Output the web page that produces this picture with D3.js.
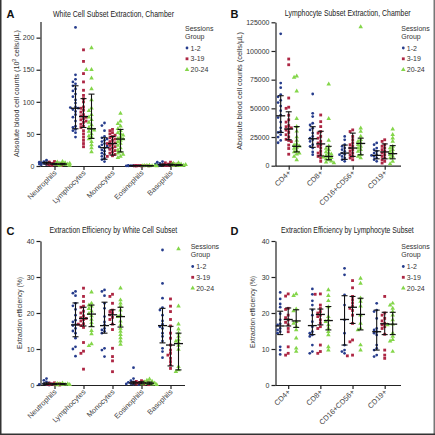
<!DOCTYPE html>
<html><head><meta charset="utf-8">
<script src="https://cdn.jsdelivr.net/npm/d3@7"></script>
<style>body{margin:0;background:#fff}svg{display:block}</style>
</head><body>
<svg id="c" width="435" height="435"></svg>
<script>
// ---------- DATA ----------
const groups = ["1-2", "3-19", "20-24"];
const catsWBC = ["Neutrophils", "Lymphocytes", "Monocytes", "Eosinophils", "Basophils"];
const catsLym = ["CD4+", "CD8+", "CD16+CD56+", "CD19+"];
const ticksCount = [0, 50, 100, 150, 200];
const ticksLymCount = [0, 25000, 50000, 75000, 100000, 125000];
const ticksEff = [0, 10, 20, 30, 40];

// A: White cell subset counts (10^3 cells/uL)
const wbcCount_g1 = [
  [9,7,6,6,5,5,5,4,4,3,3,2,2],
  [216,142,135,131,128,125,120,117,112,108,103,98,92,91,90,88,85,80,76,70,62,60,57,55,52,45],
  [67,63,55,46,44,42,40,38,35,33,31,30,28,27,25,23,20,18,15,12,10,7],
  [1,0.8,0.6,0.5,0.4,0.3,0.3,0.2,0.1],
  [7,6,4,3,3,2,2,2,1,1,1,0.5]
];
const wbcCount_g2 = [
  [7,6,5,4,4,3,3,3,2,2,1,1],
  [181,163,144,131,118,110,105,100,92,90,87,84,80,78,76,74,72,70,68,65,62,60,55,50,45,40,35,30],
  [57,55,52,50,48,46,44,42,40,38,36,35,34,32,30,28,26,24,22,20,18,16,15],
  [0.9,0.7,0.6,0.5,0.4,0.3,0.3,0.2,0.1],
  [6,5,4,3,3,2,2,2,1,1,1]
];
const wbcCount_g3 = [
  [7,6,5,4,4,3,3,3,2,2,1,1],
  [184,150,150,137,120,103,90,86,80,76,72,68,64,60,58,56,54,50,47,45,42,38,33,28,22],
  [82,70,66,62,58,55,52,50,48,45,43,42,40,38,35,32,28,25,22,20,18,15,13],
  [0.8,0.6,0.5,0.4,0.3,0.3,0.2,0.1],
  [5,4,3,2,2,2,1,1,1,0.5]
];
const wbcCountMed = [[5,90,28.5,0.4,2],[3,77,35,0.4,2],[3,58,42,0.3,1.5]];
const wbcCountQ1  = [[3,58,10.5,0.2,1],[2,60,17,0.2,1],[2,43,22,0.2,1]];
const wbcCountQ3  = [[6,125,44,0.6,3],[4,105,46,0.6,3],[4,112,57,0.5,2]];

// B: Lymphocyte subset counts (cells/uL)
const lymCount_g1 = [
  [115000,72000,68000,62000,60000,57000,55000,52000,48000,44000,42000,38000,33000,30000,29000,27000,25000,22000,20000],
  [62500,45700,42800,37000,35500,32700,31200,28400,25500,24000,22600,21200,18300,16900,15400,12000,9600],
  [25500,22600,18300,16900,15400,14000,12500,11000,10000,9600,8100,6700,5200,3800],
  [19800,18300,15400,14000,12500,11000,9600,9000,8100,6700,5200,3800]
];
const lymCount_g2 = [
  [93000,88000,59000,51000,50000,44000,40000,38000,35000,34000,33000,32000,31000,29000,27000,25000,23000,22000,21000,18000,15000,10000],
  [44200,38400,34100,29800,28400,25500,24000,21200,19800,18300,16900,15400,12500,11000,9600,8100,6700,3800],
  [31200,29800,25500,22600,19800,18300,16900,15400,14000,12500,11000,9600,8100,6700,5200],
  [22600,21200,18300,16900,15400,14000,12500,11000,9600,8100,6700,5200,3800,2300]
];
const lymCount_g3 = [
  [78000,77000,65000,41000,34000,30000,25000,22000,19000,18000,17000,16000,15000,13000,12000,11000,10000,8000,5000],
  [71000,41000,22000,17000,15000,14000,12000,11000,10000,9000,8000,7500,7000,6000,5000,4000,3000,2500],
  [121000,32700,29800,25500,22600,21200,19800,18300,16900,15400,14000,12500,9600,8100,6700],
  [31900,27000,24000,21200,16900,15400,14000,12500,11000,9600,8100,6700,3800,1500]
];
const lymCountMed = [[43500,23500,11000,9000],[32000,19000,15400,12000],[16900,8100,19400,10500]];
const lymCountQ1  = [[29000,16000,5500,6000],[22600,8500,8100,6000],[12000,5200,9500,6000]];
const lymCountQ3  = [[61000,34000,18000,13000],[47000,30000,28400,19000],[34100,16900,24000,17500]];

// C: Extraction efficiency by white cell subset (%)
const wbcEff_g1 = [
  [1.8,1.3,0.9,0.6,0.4,0.3,0.2,0.1,0.1,0],
  [26,25.5,24.8,22.7,22,21,19.4,18,17.5,16.8,16.5,15.7,15,14.4,13,10.6,10,8],
  [26.4,26,24.8,22.7,21.3,19,17.5,16.7,15.7,15.3,14.9,14.4,10.2,9.7,7.9],
  [4.8,1.8,1.2,0.9,0.7,0.6,0.5,0.4,0.3,0.2,0.1],
  [37.5,28.2,24.1,21.5,20.8,19.4,17.8,16.9,16.2,15.7,14.4,13.5,12.2,10.2,9.3,7.6]
];
const wbcEff_g2 = [
  [0.6,0.5,0.4,0.3,0.3,0.2,0.2,0.1,0.1,0],
  [26.9,24.6,23.2,21.9,21.6,20.5,20,19.2,18.7,18.5,18.2,17.8,17,16.9,16.5,16,11.8,9.4,8.8,4.4],
  [25.2,24.6,22.7,20.8,20.4,20,19.5,18.8,18.2,16.9,15.4,10.2,7.9,6.7,3.7],
  [1.2,1.0,0.9,0.8,0.7,0.6,0.5,0.4,0.3,0.2,0.1],
  [23.9,21.9,20.4,18.2,16.4,14.4,13,11.1,9.7,8.8,8.3,7.4,6.5,5.6,4.6]
];
const wbcEff_g3 = [
  [0.5,0.4,0.3,0.3,0.2,0.2,0.1,0.1,0],
  [25.8,22.7,22.2,21.9,21.2,20.5,19.8,19.2,18.2,17.3,16.5,15.1,14.2,11.4,10.9],
  [26.9,23.6,22.7,21.9,20.8,19.4,19,17.7,16.7,15.7,14.9,14,13.1,12.2,11.3],
  [1.6,1.3,1.0,0.8,0.6,0.5,0.4,0.3,0.2,0.1],
  [37.8,21.9,16.9,15.5,14.4,13.5,12.6,12.2,11.8,11,9.9,5.1,4.2,3.7]
];
const wbcEffMed = [[0.3,16.7,16.5,0.6,16.5],[0.3,18.5,19.5,0.6,11.1],[0.3,19.7,19,0.5,11.5]];
const wbcEffQ1  = [[0.1,13.4,14.4,0.3,11.7],[0.1,16.4,16.8,0.3,5.3],[0.1,16.2,16.1,0.2,4.2]];
const wbcEffQ3  = [[0.6,22.8,23,0.9,21.3],[0.4,21.6,20.9,0.9,16.3],[0.4,22.2,21.6,0.8,14.4]];

// D: Extraction efficiency by lymphocyte subset (%)
const lymEff_g1 = [
  [25.7,23.9,22.5,21.6,19.8,18.1,17,16.7,15.7,15.3,14.8,14.4,10.6,9.7,8.5],
  [26.7,25.2,23.4,22.2,20.8,19.4,17.6,16.2,14.8,14.4,13.9,13.5,11.1,9.3,8.8],
  [32.4,30.6,25,22.2,18.1,14.4,11.1,9.7,9.3,8.8],
  [22.7,20.8,20.4,18.5,15.7,15.3,14.8,14.4,13.9,11.1,10.2,9.7,8.3,7.9]
];
const lymEff_g2 = [
  [25.3,24.7,21.3,21,19.4,18.7,18.1,17.4,16.7,15.7,14.8,10.6,8.8,8.3],
  [25.3,25.2,22.2,21.3,20.4,20,19.4,19,18.1,17.2,16.2,15.7,11.1,9.3,8.8],
  [29,27,24.6,23.7,22.8,21.9,21.3,20.7,19.4,17.1,12.5,12,8.3,8.1],
  [24.6,20,19.4,18.5,17.8,17.1,16.7,16.2,15.7,14.1,9.7,8.3,7.4]
];
const lymEff_g3 = [
  [25.3,24.8,21.1,20.6,17.6,17.1,16.2,15.3,13,10.2,9.3],
  [26.4,24.8,23.4,21.7,19,18.1,17.6,16.7,15.7,14.8,13.9,10.6,9.7],
  [29.6,28.2,24.1,23.2,21.9,19.4,17.1,15.7,15.3,11.1,9.7],
  [22.7,22.2,21.3,20.4,19.4,18.1,16.9,16.7,14.4,13.5,12.6,12.2,9.3]
];
const lymEffMed = [[16.4,16.5,18.2,14.8],[18.2,19.6,21.6,17],[17.8,17.9,19.6,16.9]];
const lymEffQ1  = [[14,14,11.1,9.7],[16.4,16.7,17.1,14],[16,15.3,15.3,14]];
const lymEffQ3  = [[20.5,21.1,24.8,20.8],[21.4,21.1,24.6,20.2],[20.9,21.8,24.1,20.2]];

// ---------- DRAWING ----------
const colors = ["#263c8c", "#ad2744", "#84d64a"];
const shapes = [d3.symbolCircle, d3.symbolSquare, d3.symbolTriangle];
const sizes = [6, 8, 9];
const FONT = "'Liberation Sans', Arial, sans-serif";
const svg = d3.select("#c");

svg.append("g").attr("stroke", "#333").attr("stroke-width", 1.5)
  .call(g => {
    g.append("line").attr("x1", 0.75).attr("x2", 0.75).attr("y1", 0).attr("y2", 435);
    g.append("line").attr("x1", 434.25).attr("x2", 434.25).attr("y1", 0).attr("y2", 435).attr("stroke", "#777");
    g.append("line").attr("x1", 0).attr("x2", 435).attr("y1", 434.25).attr("y2", 434.25);
  });

function beeswarm(values, yScale) {
  const items = values.map(v => ({ v, py: yScale(v) })).sort((a, b) => a.py - b.py);
  const placed = [];
  const d = 2.7;
  const cands = [0, -2.6, 2.6, -5.2, 5.2, -7.2, 7.2];
  items.forEach(it => {
    let best = 0, bestScore = -1;
    for (const c of cands) {
      let minD = Infinity;
      for (const p of placed) {
        const dd = Math.hypot(p.dx - c, p.py - it.py);
        if (dd < minD) minD = dd;
      }
      if (minD >= d) { best = c; bestScore = Infinity; break; }
      if (minD > bestScore) { bestScore = minD; best = c; }
    }
    it.dx = best;
    placed.push(it);
  });
  return items;
}

// squeeze a text horizontally (in its own direction) to a target length
function fit(sel, base, len) {
  const w = sel.node().getComputedTextLength();
  sel.attr("transform", `${base} scale(${len / w},1)`);
}

function drawPanel(cfg) {
  const g = svg.append("g");
  const y = d3.scaleLinear().domain([0, cfg.ymax]).range([cfg.y0, cfg.y1]);
  const x = d3.scalePoint().domain(cfg.cats).range([cfg.cx0, cfg.cx1]);
  const gx = d3.scalePoint().domain(groups).range([-8, 8]);

  // y axis
  const ya = g.append("g").attr("transform", `translate(${cfg.ax},0)`)
    .call(d3.axisLeft(y).tickValues(cfg.ticks).tickSize(4).tickSizeOuter(0).tickPadding(2).tickFormat(d3.format("d")));
  ya.selectAll("path,line").attr("stroke", "#222").attr("stroke-width", 1.2);
  ya.selectAll("text").attr("font-family", FONT).attr("font-size", 7).attr("fill", "#333");

  // x axis
  const xa = g.append("g").attr("transform", `translate(0,${cfg.y0})`)
    .call(d3.axisBottom(x).tickSize(4).tickSizeOuter(0).tickFormat(""));
  xa.select("path.domain").attr("d", `M${cfg.ax},0.5H${cfg.axEnd}`);
  xa.selectAll("path,line").attr("stroke", "#222").attr("stroke-width", 1.2);
  g.append("g").selectAll("text").data(cfg.cats).join("text")
    .attr("transform", c => `translate(${x(c) + 2.5},${cfg.y0 + 7.5}) rotate(-45)`)
    .attr("text-anchor", "end").attr("font-family", FONT).attr("font-size", 7.4).attr("fill", "#444")
    .text(c => c);

  // points
  cfg.series.forEach((ser, gi) => {
    ser.forEach((vals, ci) => {
      const pts = beeswarm(vals, y);
      g.append("g").selectAll("path").data(pts).join("path")
        .attr("transform", p => `translate(${x(cfg.cats[ci]) + gx(groups[gi]) + p.dx},${p.py})`)
        .attr("d", d3.symbol(shapes[gi], sizes[gi]))
        .attr("fill", colors[gi]);
    });
  });
  // error bars (median with interquartile range)
  cfg.med.forEach((meds, gi) => {
    meds.forEach((m, ci) => {
      const cx = x(cfg.cats[ci]) + gx(groups[gi]);
      const q1 = cfg.q1[gi][ci], q3 = cfg.q3[gi][ci];
      const eb = g.append("g").attr("stroke", "#111").attr("stroke-width", 1.1);
      eb.append("line").attr("x1", cx).attr("x2", cx).attr("y1", y(q1)).attr("y2", y(q3));
      eb.append("line").attr("x1", cx - 3).attr("x2", cx + 3).attr("y1", y(q1)).attr("y2", y(q1));
      eb.append("line").attr("x1", cx - 3).attr("x2", cx + 3).attr("y1", y(q3)).attr("y2", y(q3));
      eb.append("line").attr("x1", cx - 4.5).attr("x2", cx + 4.5).attr("y1", y(m)).attr("y2", y(m)).attr("stroke-width", 1.3);
    });
  });

  // title
  const tt = g.append("text").attr("text-anchor", "middle")
    .attr("font-family", FONT).attr("font-size", 8.6).attr("fill", "#222").text(cfg.title);
  fit(tt, `translate(${cfg.tx},${cfg.ty})`, cfg.tlen);
  // panel letter
  g.append("text").attr("x", cfg.lx).attr("y", cfg.ly).attr("font-family", FONT)
    .attr("font-size", 11).attr("font-weight", "bold").attr("fill", "#111").text(cfg.letter);
  // y label
  const yl = g.append("text")
    .attr("text-anchor", "middle").attr("font-family", FONT).attr("font-size", 7.8).attr("fill", "#333");
  cfg.ylabel.forEach(part => {
    const t = yl.append("tspan").text(part.t);
    if (part.sup) t.attr("baseline-shift", "super").attr("font-size", 5.5);
  });
  fit(yl, `translate(${cfg.ylx},${cfg.yly}) rotate(-90)`, cfg.yllen);

  // legend
  const lg = g.append("g").attr("font-family", FONT).attr("font-size", 7).attr("fill", "#333");
  lg.append("text").attr("x", cfg.legX).attr("y", cfg.legY).text("Sessions");
  lg.append("text").attr("x", cfg.legX).attr("y", cfg.legY + 8).text("Group");
  groups.forEach((gname, gi) => {
    const cy = cfg.legY + 17.5 + gi * 10.8;
    lg.append("path").attr("transform", `translate(${cfg.legX + 2},${cy})`)
      .attr("d", d3.symbol(shapes[gi], sizes[gi])).attr("fill", colors[gi]);
    lg.append("text").attr("x", cfg.legX + 5.5).attr("y", cy + 2.5).text(gname);
  });
}

drawPanel({
  letter: "A", lx: 6.5, ly: 17.5, title: "White Cell Subset Extraction, Chamber", tx: 113.5, ty: 16.5, tlen: 121,
  cats: catsWBC, ymax: 225, y0: 166, y1: 21.6, ax: 40.5, axEnd: 185, cx0: 54.5, cx1: 170.5, ticks: ticksCount,
  series: [wbcCount_g1, wbcCount_g2, wbcCount_g3], med: wbcCountMed, q1: wbcCountQ1, q3: wbcCountQ3,
  ylabel: [{t: "Absolute blood cell counts (10"}, {t: "3", sup: true}, {t: " cells/\u00b5L)"}],
  ylx: 19, yly: 93.5, yllen: 127, legX: 185, legY: 30.5
});
drawPanel({
  letter: "B", lx: 230.5, ly: 17.5, title: "Lymphocyte Subset Extraction, Chamber", tx: 347.7, ty: 16, tlen: 126,
  cats: catsLym, ymax: 125000, y0: 165.7, y1: 22.3, ax: 275.5, axEnd: 401, cx0: 288.7, cx1: 384.7, ticks: ticksLymCount,
  series: [lymCount_g1, lymCount_g2, lymCount_g3], med: lymCountMed, q1: lymCountQ1, q3: lymCountQ3,
  ylabel: [{t: "Absolute blood cell counts (cells/\u00b5L)"}],
  ylx: 241.5, yly: 91, yllen: 118, legX: 401.3, legY: 30.5
});
drawPanel({
  letter: "C", lx: 6.5, ly: 234.5, title: "Extraction Efficiency by White Cell Subset", tx: 113.3, ty: 233, tlen: 128,
  cats: catsWBC, ymax: 40, y0: 385, y1: 241, ax: 40.5, axEnd: 185, cx0: 54.5, cx1: 170.5, ticks: ticksEff,
  series: [wbcEff_g1, wbcEff_g2, wbcEff_g3], med: wbcEffMed, q1: wbcEffQ1, q3: wbcEffQ3,
  ylabel: [{t: "Extraction efficiency (%)"}],
  ylx: 21.5, yly: 313, yllen: 72, legX: 190.7, legY: 249
});
drawPanel({
  letter: "D", lx: 230.5, ly: 234.5, title: "Extraction Efficiency by Lymphocyte Subset", tx: 347.3, ty: 233, tlen: 133,
  cats: catsLym, ymax: 40, y0: 385, y1: 241, ax: 275.5, axEnd: 401, cx0: 288.2, cx1: 384.7, ticks: ticksEff,
  series: [lymEff_g1, lymEff_g2, lymEff_g3], med: lymEffMed, q1: lymEffQ1, q3: lymEffQ3,
  ylabel: [{t: "Extraction efficiency (%)"}],
  ylx: 255, yly: 312, yllen: 72, legX: 401.3, legY: 249
});
</script>
</body></html>
